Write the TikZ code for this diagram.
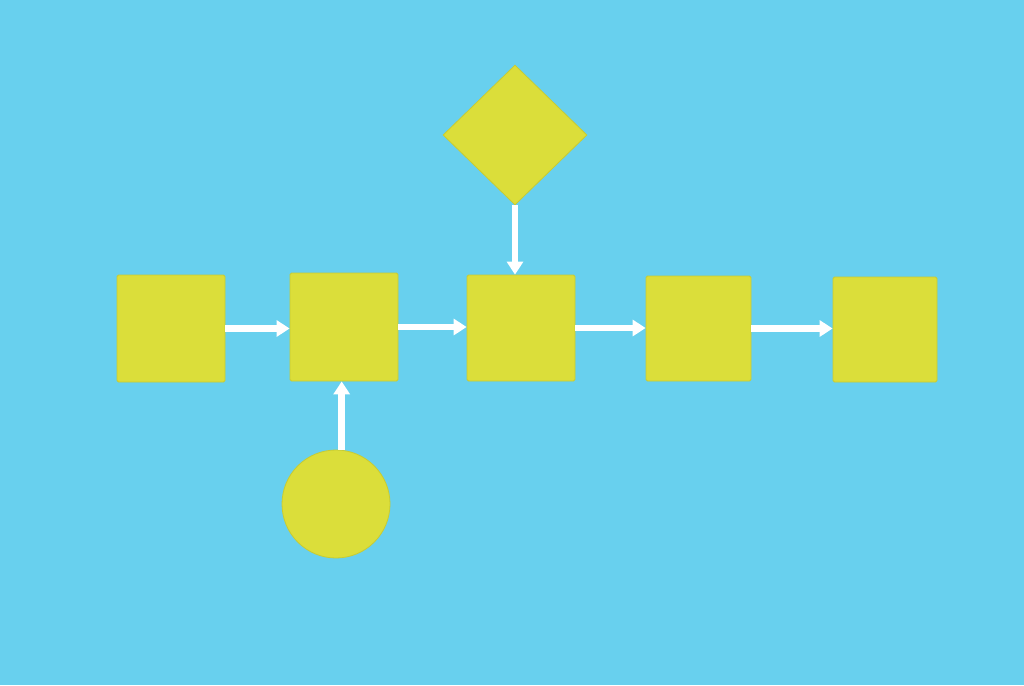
\documentclass[tikz,border=0pt]{standalone}
\usetikzlibrary{shapes.geometric,arrows.meta}
\definecolor{bgblue}{RGB}{104,208,238}
\definecolor{tile}{RGB}{219,222,58}
\definecolor{tileedge}{RGB}{200,204,50}
\begin{document}
\begin{tikzpicture}[x=1pt,y=-1pt,
  tilebox/.style={rectangle,fill=tile,draw=tileedge,line width=0.8pt,rounded corners=1.5pt,inner sep=0pt},
  flow/.style={draw=white,line width=6.5pt,-{Triangle[width=16pt,length=13pt]}}]
\fill[bgblue] (0,0) rectangle (1024,685);
\useasboundingbox (0,0) rectangle (1024,685);
\node[tilebox,minimum width=108pt,minimum height=107pt] (b1) at (171,328.5) {};
\node[tilebox,minimum width=108pt,minimum height=108pt] (b2) at (344,327) {};
\node[tilebox,minimum width=108pt,minimum height=106pt] (b3) at (521,328) {};
\node[tilebox,minimum width=105pt,minimum height=105pt] (b4) at (698.5,328.5) {};
\node[tilebox,minimum width=104pt,minimum height=105pt] (b5) at (885,329.5) {};
\node[diamond,fill=tile,draw=tileedge,line width=0.8pt,inner sep=0pt,minimum width=144pt,minimum height=140pt] (d) at (515,135) {};
\node[circle,fill=tile,draw=tileedge,line width=0.8pt,inner sep=0pt,minimum size=108pt] (c) at (336,504) {};
\draw[flow] (b1.east) -- (b1.east -| b2.west);
\draw[flow] (b2.east) -- (b2.east -| b3.west);
\draw[flow] (b3.east) -- (b3.east -| b4.west);
\draw[flow] (b4.east) -- (b4.east -| b5.west);
\draw[flow] (d.south) -- (d.south |- b3.north);
\draw[flow] (c.84) -- (c.84 |- b2.south);
\end{tikzpicture}
\end{document}
